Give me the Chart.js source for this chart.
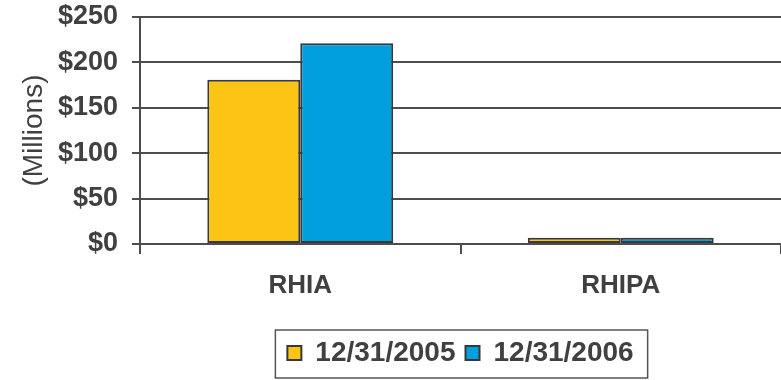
<!DOCTYPE html>
<html>
<head>
<meta charset="utf-8">
<script src="https://cdn.jsdelivr.net/npm/chart.js@4"></script>
<style>
  html, body { margin: 0; padding: 0; background: #fff; }
  #wrap { width: 781px; height: 380px; }
</style>
</head>
<body>
<div id="wrap"><canvas id="barChart" width="781" height="380"></canvas></div>
<script>
// Balances by vehicle, in millions of dollars
const categories = ['RHIA', 'RHIPA'];
const seriesLabels = ['12/31/2005', '12/31/2006'];
const values2005 = [181, 7];
const values2006 = [221, 7];
const yTicks = [0, 50, 100, 150, 200, 250];

const textColor = '#404040';
const lineColor = '#4d4d4d';
const fontFamily = '"Liberation Sans", Arial, sans-serif';

// draws a frame around the legend items
const legendFrame = {
    id: 'legendFrame',
    afterDraw(chart) {
        const boxes = chart.legend.legendHitBoxes;
        if (!boxes || !boxes.length) return;
        const first = boxes[0];
        const last = boxes[boxes.length - 1];
        const ctx = chart.ctx;
        ctx.save();
        ctx.strokeStyle = '#555';
        ctx.lineWidth = 1.5;
        ctx.strokeRect(first.left - 12, first.top - 9,
            last.left + last.width - first.left + 26, first.height + 20);
        ctx.restore();
    }
};

const ctx = document.getElementById('barChart').getContext('2d');
const barChart = new Chart(ctx, {
    type: 'bar',
    data: {
        labels: categories,
        datasets: [
            { label: seriesLabels[0], data: values2005, backgroundColor: '#FCC515', borderColor: '#383838', borderWidth: 2, borderSkipped: false },
            { label: seriesLabels[1], data: values2006, backgroundColor: '#019FDE', borderColor: '#383838', borderWidth: 2, borderSkipped: false }
        ]
    },
    options: {
        responsive: false,
        animation: false,
        layout: { padding: { left: 0, right: 0, top: 17, bottom: 3 } },
        datasets: { bar: { categoryPercentage: 0.58, barPercentage: 1.0 } },
        scales: {
            x: {
                offset: true,
                grid: { offset: true, drawOnChartArea: false, drawTicks: true, tickLength: 10, color: lineColor, lineWidth: 2 },
                border: { display: true, color: lineColor, width: 2 },
                ticks: { color: textColor, padding: 16, font: { family: fontFamily, size: 26, weight: 'bold' } },
                afterFit(scale) {
                    scale.height = 85;
                    scale.paddingLeft = 0;
                    scale.paddingRight = 0;
                }
            },
            y: {
                min: 0,
                max: 250,
                afterBuildTicks(scale) { scale.ticks = yTicks.map(v => ({ value: v })); },
                grid: { color: lineColor, lineWidth: 2, drawTicks: true, tickLength: 8 },
                border: { display: true, color: lineColor, width: 2 },
                ticks: {
                    color: textColor,
                    padding: 14,
                    font: { family: fontFamily, size: 27, weight: 'bold' },
                    callback: v => '$' + v
                },
                title: {
                    display: true,
                    text: '(Millions)',
                    color: textColor,
                    padding: { top: 17, bottom: 0 },
                    font: { family: fontFamily, size: 28, weight: 'normal' }
                },
                afterFit(scale) {
                    scale.width = 140;
                    scale.paddingTop = 0;
                    scale.paddingBottom = 0;
                }
            }
        },
        plugins: {
            legend: {
                position: 'bottom',
                fullSize: false,
                labels: {
                    color: textColor,
                    boxWidth: 14,
                    boxHeight: 14,
                    padding: 10,
                    font: { family: fontFamily, size: 28, weight: 'bold' }
                }
            },
            tooltip: { enabled: false }
        }
    },
    plugins: [legendFrame]
});
</script>
</body>
</html>
